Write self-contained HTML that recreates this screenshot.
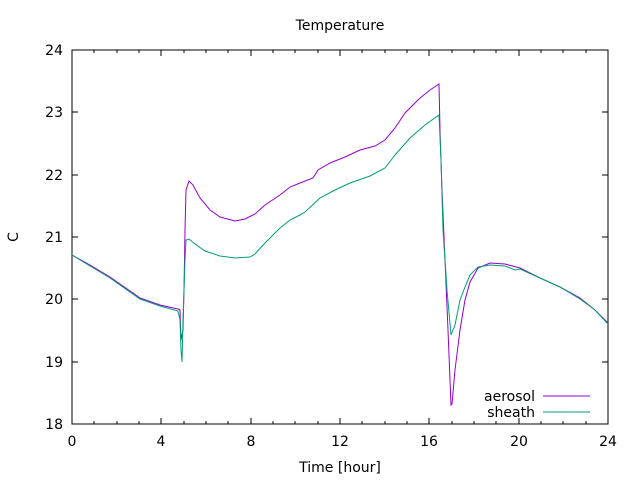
<!DOCTYPE html>
<html><head><style>body{margin:0;background:#fff}svg{display:block}</style></head><body>
<svg width="640" height="480" xmlns="http://www.w3.org/2000/svg" font-family="DejaVu Sans, Liberation Sans, sans-serif" font-size="14">
<rect x="72" y="50" width="536" height="374" fill="none" stroke="#000" stroke-width="1"/>
<g stroke="#000" stroke-width="1">
<path d="M72 50h6M72 112h6M72 175h6M72 237h6M72 299h6M72 362h6M72 424h6M608 50h-6M608 112h-6M608 175h-6M608 237h-6M608 299h-6M608 362h-6M608 424h-6"/>
<path d="M72 424v-6M161 424v-6M251 424v-6M340 424v-6M429 424v-6M519 424v-6M608 424v-6M72 50v6M161 50v6M251 50v6M340 50v6M429 50v6M519 50v6M608 50v6"/>
<path d="M94 424v-3M117 424v-3M139 424v-3M184 424v-3M206 424v-3M228 424v-3M273 424v-3M295 424v-3M318 424v-3M362 424v-3M385 424v-3M407 424v-3M452 424v-3M474 424v-3M496 424v-3M541 424v-3M563 424v-3M586 424v-3M94 50v3M117 50v3M139 50v3M184 50v3M206 50v3M228 50v3M273 50v3M295 50v3M318 50v3M362 50v3M385 50v3M407 50v3M452 50v3M474 50v3M496 50v3M541 50v3M563 50v3M586 50v3"/>
</g>
<g text-anchor="end">
<text x="63" y="55">24</text><text x="63" y="117">23</text><text x="63" y="180">22</text><text x="63" y="242">21</text><text x="63" y="304">20</text><text x="63" y="367">19</text><text x="63" y="429">18</text>
</g>
<g text-anchor="middle">
<text x="72" y="446">0</text><text x="161" y="446">4</text><text x="251" y="446">8</text><text x="340" y="446">12</text><text x="429" y="446">16</text><text x="519" y="446">20</text><text x="608" y="446">24</text>
<text x="340" y="472">Time [hour]</text>
<text x="340" y="30">Temperature</text>
<text x="18" y="237" transform="rotate(-90 18 237)">C</text>
</g>
<polyline fill="none" stroke="#9400d3" stroke-width="1" points="72,255 90,265 110,277 140,298 160,305 178,309 180,310 181,340 183,330 184,290 185,230 186,190 189,181 193,185 200,198 210,210 220,217 235,221 245,219 255,214 265,205 280,195 290,187 300,183 313,178 318,170 330,163 345,157 360,150 375,146 385,140 395,128 405,113 420,98 430,90 439,84 440,130 442,190 445,260 448,330 451,405 452,404 455,370 460,330 465,300 470,282 478,268 490,263 505,264 520,268 540,278 560,287 580,298 595,310 608,323"/>
<polyline fill="none" stroke="#009e73" stroke-width="1" points="72,255 90,266 110,278 140,299 160,306 178,311 180,320 181,350 182,362 183,320 185,260 186,240 189,239 195,244 205,251 220,256 235,258 250,257 255,254 265,243 280,228 290,220 300,215 305,212 320,198 335,190 350,183 370,176 385,168 395,155 410,138 425,125 439,115 441,160 443,230 447,290 451,335 455,325 460,300 465,287 470,275 478,267 490,265 505,266 515,270 520,269 540,278 560,287 580,299 595,310 608,324"/>
<text x="535" y="401" text-anchor="end">aerosol</text>
<text x="535" y="417" text-anchor="end">sheath</text>
<line x1="543" y1="396" x2="590" y2="396" stroke="#9400d3"/>
<line x1="543" y1="412" x2="590" y2="412" stroke="#009e73"/>
</svg>
</body></html>
